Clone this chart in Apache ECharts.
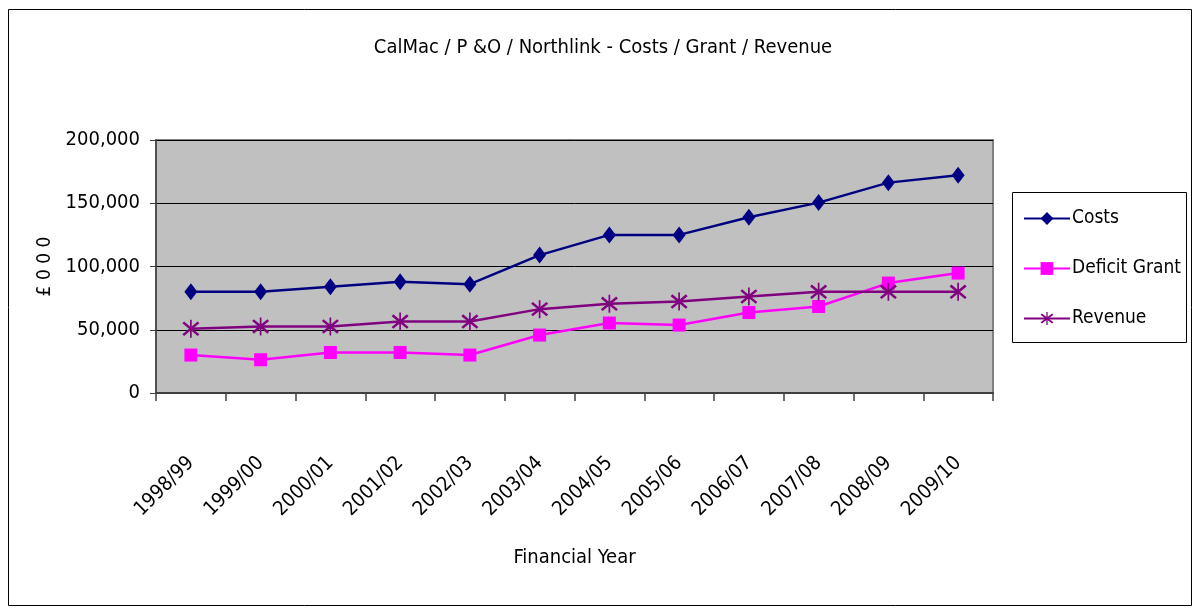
<!DOCTYPE html>
<html>
<head>
<meta charset="utf-8">
<script src="https://cdn.jsdelivr.net/npm/echarts@6/dist/echarts.min.js"></script>
<style>
  html, body { margin: 0; padding: 0; background: #fff; }
  #chart { width: 1198px; height: 609px; }
</style>
</head>
<body>
<div id="chart"></div>
<script>
// financial years
const years = ['1998/99', '1999/00', '2000/01', '2001/02', '2002/03', '2003/04',
  '2004/05', '2005/06', '2006/07', '2007/08', '2008/09', '2009/10'];

// £000
const costs = [80000, 80000, 84000, 88000, 86000, 109000, 125000, 125000, 139000, 150500, 166300, 172100];
const deficitGrant = [30000, 26300, 32000, 32000, 30000, 45800, 55300, 53700, 63600, 68400, 86900, 94800];
const revenue = [50800, 52600, 52600, 56500, 56500, 66300, 70500, 72300, 76300, 80000, 80000, 80000];

const yTicks = [0, 50000, 100000, 150000, 200000];

const font = "'Liberation Sans Narrow', 'DejaVu Sans Condensed', 'Liberation Sans', Arial, sans-serif";
const asterisk = 'path://M9,0L11,0L11,20L9,20Z M0,4L2,2L20,16L18,18Z M18,2L20,4L2,18L0,16Z';

let chart = echarts.init(document.getElementById('chart'));

chart.setOption({
    animation: false,
    textStyle: { fontFamily: font, color: '#000' },
    title: {
        text: 'CalMac / P &O / Northlink - Costs / Grant / Revenue',
        left: 598,
        textAlign: 'center',
        top: 33,
        textStyle: { fontFamily: font, fontSize: 20, fontWeight: 'normal', color: '#000' }
    },
    graphic: [
        {
            type: 'rect',
            shape: { x: 8.5, y: 9.5, width: 1183, height: 596 },
            style: { fill: 'none', stroke: '#000', lineWidth: 1 },
            silent: true
        },
        {
            type: 'rect',
            shape: { x: 1012.5, y: 192.5, width: 174, height: 150 },
            style: { fill: '#fff', stroke: '#000', lineWidth: 1 },
            z: 1,
            silent: true
        }
    ],
    legend: {
        orient: 'vertical',
        left: 1018,
        top: 204,
        itemWidth: 46,
        itemHeight: 16,
        itemGap: 31,
        z: 5,
        textStyle: { fontFamily: font, fontSize: 19, color: '#000', padding: [0, 0, 0, -3] },
        data: ['Costs', 'Deficit Grant', 'Revenue']
    },
    grid: {
        left: 156,
        right: 205,
        top: 140,
        bottom: 216,
        show: true,
        backgroundColor: '#c0c0c0',
        borderColor: '#808080',
        borderWidth: 2
    },
    xAxis: {
        type: 'category',
        data: years,
        boundaryGap: true,
        name: 'Financial Year',
        nameLocation: 'middle',
        nameGap: 155,
        nameTextStyle: { fontFamily: font, fontSize: 20, color: '#000' },
        axisLine: { lineStyle: { color: '#404040', width: 2 } },
        axisTick: { show: true, interval: 0, length: 8, lineStyle: { color: '#404040', width: 1.5 } },
        axisLabel: { rotate: 45, interval: 0, margin: 67, fontSize: 20, color: '#000', fontFamily: font }
    },
    yAxis: {
        type: 'value',
        min: yTicks[0],
        max: yTicks[yTicks.length - 1],
        interval: 50000,
        name: '£ 0 0 0',
        nameLocation: 'middle',
        nameRotate: 90,
        nameGap: 101,
        nameTextStyle: { fontFamily: font, fontSize: 19, color: '#000' },
        axisLine: { show: true, lineStyle: { color: '#404040', width: 1.5 } },
        axisTick: { show: true, length: 6, lineStyle: { color: '#404040' } },
        axisLabel: {
            fontSize: 20,
            color: '#000',
            fontFamily: font,
            margin: 16,
            formatter: v => v.toLocaleString('en-GB')
        },
        splitLine: { show: true, lineStyle: { color: '#000', width: 1 } }
    },
    series: [
        {
            name: 'Costs',
            type: 'line',
            data: costs,
            color: '#000080',
            symbol: 'diamond',
            symbolSize: [13, 17],
            lineStyle: { width: 2.5, color: '#000080' },
            itemStyle: { color: '#000080' }
        },
        {
            name: 'Deficit Grant',
            type: 'line',
            data: deficitGrant,
            color: '#ff00ff',
            symbol: 'rect',
            symbolSize: 13,
            lineStyle: { width: 2.5, color: '#ff00ff' },
            itemStyle: { color: '#ff00ff' }
        },
        {
            name: 'Revenue',
            type: 'line',
            data: revenue,
            color: '#800080',
            symbol: asterisk,
            symbolSize: [17, 18],
            lineStyle: { width: 2.5, color: '#800080' },
            itemStyle: { color: '#800080' }
        }
    ]
});
</script>
</body>
</html>
